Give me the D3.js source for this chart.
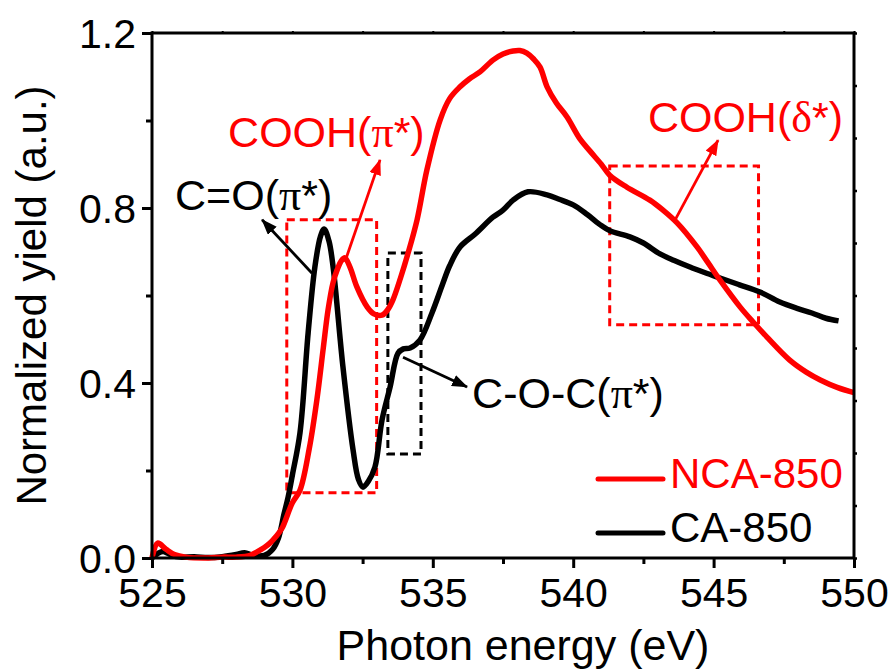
<!DOCTYPE html>
<html><head><meta charset="utf-8">
<script src="https://cdn.jsdelivr.net/npm/d3@7"></script>
<style>html,body{margin:0;padding:0;background:#fff;}svg{display:block;}</style>
</head><body>
<svg id="c" width="889" height="669"></svg>
<script>
const caEnergy = [525.0,525.2,525.4,525.7,526.0,526.5,527.0,527.5,528.0,528.3,528.6,529.0,529.3,529.5,529.7,529.85,530.0,530.27,530.56,530.8,531.0,531.13,531.3,531.45,531.8,532.16,532.35,532.51,532.7,532.94,533.19,533.48,533.76,533.95,534.19,534.54,534.97,535.36,535.6,535.97,536.5,537.14,537.5,537.86,538.39,539.07,539.5,540.0,540.5,541.0,541.31,542.02,542.5,543.09,543.6,544.16,544.7,545.23,545.9,546.65,547.36,548.0,548.5,549.0,549.45];
const caYield = [0.0,0.01,0.015,0.006,0.002,0.003,0.001,0.003,0.008,0.012,0.006,0.006,0.02,0.045,0.10,0.14,0.19,0.286,0.514,0.665,0.735,0.752,0.725,0.665,0.437,0.247,0.18,0.162,0.175,0.208,0.315,0.391,0.468,0.478,0.48,0.498,0.56,0.628,0.668,0.711,0.74,0.779,0.795,0.818,0.837,0.830,0.82,0.807,0.785,0.76,0.748,0.734,0.72,0.695,0.68,0.665,0.652,0.64,0.625,0.608,0.585,0.57,0.56,0.548,0.542];
const ncaEnergy = [525.0,525.2,525.5,525.8,526.2,527.0,527.5,528.0,528.5,528.74,529.0,529.2,529.4,529.63,529.99,530.27,530.6,530.87,531.1,531.27,531.45,531.59,531.75,531.87,532.05,532.3,532.66,532.9,533.19,533.4,533.58,533.85,534.12,534.44,534.79,535.26,535.6,535.97,536.3,536.68,537.14,537.5,537.86,538.1,538.35,538.6,538.82,539.07,539.4,539.78,540.24,540.6,541.0,541.3,541.9,542.73,543.2,543.7,544.41,544.8,545.23,545.94,546.4,546.9,547.7,548.3,548.8,549.4,550.0];
const ncaYield = [0.0,0.034,0.02,0.008,0.002,0.0,0.002,0.002,0.006,0.014,0.024,0.034,0.048,0.068,0.125,0.155,0.25,0.361,0.48,0.567,0.63,0.658,0.68,0.686,0.665,0.619,0.574,0.558,0.555,0.568,0.59,0.64,0.697,0.773,0.887,1.001,1.05,1.077,1.095,1.111,1.138,1.152,1.159,1.16,1.154,1.14,1.122,1.077,1.04,1.008,0.958,0.93,0.9,0.875,0.848,0.818,0.795,0.766,0.711,0.675,0.635,0.574,0.54,0.505,0.453,0.425,0.407,0.39,0.378];
const xTicks = [525,530,535,540,545,550];
const yTicks = [0.0,0.4,0.8,1.2];
const seriesNames = ["NCA-850","CA-850"];
const seriesColors = ["#ff0000","#000000"];
// annotation boxes in data units [x0,x1,y0,y1]
const boxes = [
  {x0:529.8,x1:533.0,y0:0.149,y1:0.773,color:"#ff0000"},
  {x0:533.4,x1:534.58,y0:0.238,y1:0.697,color:"#000000"},
  {x0:541.3,x1:546.6,y0:0.533,y1:0.896,color:"#ff0000"}
];
const arrows = [
  {x1:530.70,y1:0.651,x2:528.92,y2:0.773,color:"#000000"},
  {x1:531.87,y1:0.677,x2:533.12,y2:0.910,color:"#ff0000"},
  {x1:533.94,y1:0.459,x2:536.22,y2:0.391,color:"#000000"},
  {x1:543.63,y1:0.773,x2:545.16,y2:0.955,color:"#ff0000"}
];
const labels = [
  {x:527.71,y:0.939,pre:"COOH(",greek:"π",post:"*)",color:"#ff0000"},
  {x:525.82,y:0.795,pre:"C=O(",greek:"π",post:"*)",color:"#000000"},
  {x:536.40,y:0.343,pre:"C-O-C(",greek:"π",post:"*)",color:"#000000"},
  {x:542.66,y:0.974,pre:"COOH(",greek:"δ",post:"*)",color:"#ff0000"}
];

const svg = d3.select("#c");
const L=152,R=854,T=33,B=558;
const x = d3.scaleLinear().domain([525,550]).range([L,R]);
const y = d3.scaleLinear().domain([0,1.2]).range([B,T]);
const sans = "'Liberation Sans', Arial, Helvetica, sans-serif";
const serif = "'Liberation Serif', 'Times New Roman', serif";

const defs = svg.append("defs");
["#ff0000","#000000"].forEach((c,i)=>{
  defs.append("marker").attr("id","ah"+i).attr("markerUnits","userSpaceOnUse")
    .attr("viewBox","0 0 16 12").attr("refX",15).attr("refY",6)
    .attr("markerWidth",16).attr("markerHeight",12).attr("orient","auto")
    .append("path").attr("d","M0,0 L16,6 L0,12 Z").attr("fill",c);
});

svg.append("g").selectAll("rect").data(boxes).join("rect")
  .attr("x",d=>x(d.x0)).attr("y",d=>y(d.y1))
  .attr("width",d=>x(d.x1)-x(d.x0)).attr("height",d=>y(d.y0)-y(d.y1))
  .attr("fill","none").attr("stroke",d=>d.color).attr("stroke-width",3)
  .attr("stroke-dasharray","8,5");

const line = d3.line().x(d=>x(d[0])).y(d=>y(d[1])).curve(d3.curveCatmullRom.alpha(0.5));
const caData = caEnergy.map((e,i)=>[e,caYield[i]]);
const ncaData = ncaEnergy.map((e,i)=>[e,ncaYield[i]]);
svg.append("path").datum(caData).attr("d",line).attr("fill","none")
  .attr("stroke",seriesColors[1]).attr("stroke-width",5.5).attr("stroke-linejoin","round");
svg.append("path").datum(ncaData).attr("d",line).attr("fill","none")
  .attr("stroke",seriesColors[0]).attr("stroke-width",5.5).attr("stroke-linejoin","round");

svg.append("g").selectAll("line").data(arrows).join("line")
  .attr("x1",d=>x(d.x1)).attr("y1",d=>y(d.y1)).attr("x2",d=>x(d.x2)).attr("y2",d=>y(d.y2))
  .attr("stroke",d=>d.color).attr("stroke-width",2.8)
  .attr("marker-end",d=>d.color==="#ff0000"?"url(#ah0)":"url(#ah1)");

labels.forEach(l=>{
  const t = svg.append("text").attr("x",x(l.x)).attr("y",y(l.y))
    .attr("font-family",sans).attr("font-size",43).attr("fill",l.color);
  t.append("tspan").text(l.pre);
  t.append("tspan").attr("font-family",serif).attr("font-size",44).text(l.greek);
  t.append("tspan").text(l.post);
});

const ax = svg.append("g");
ax.append("rect").attr("x",L).attr("y",T).attr("width",R-L).attr("height",B-T)
  .attr("fill","none").attr("stroke","#000").attr("stroke-width",3);
const xAxis = d3.axisBottom(x).tickValues(xTicks).tickSize(10).tickFormat(d3.format("d"));
const gx = ax.append("g").attr("transform",`translate(0,${B})`).call(xAxis);
gx.select(".domain").remove();
gx.selectAll(".tick line").attr("stroke-width",3);
gx.selectAll(".tick text").attr("font-family",sans).attr("font-size",41).attr("fill","#000").attr("dy","0.95em").attr("y",10);
const xMinor = d3.axisBottom(x).tickValues(d3.range(527.5,550,5)).tickSize(6).tickFormat("");
const gxm = ax.append("g").attr("transform",`translate(0,${B})`).call(xMinor);
gxm.select(".domain").remove(); gxm.selectAll(".tick line").attr("stroke-width",3);
const gxt = ax.append("g").attr("transform",`translate(0,${T})`).call(d3.axisTop(x).tickValues(d3.range(525,550.1,2.5)).tickSize(2).tickFormat(""));
gxt.select(".domain").remove(); gxt.selectAll(".tick line").attr("stroke-width",2);
const yAxis = d3.axisLeft(y).tickValues(yTicks).tickSize(10).tickFormat(d3.format(".1f"));
const gy = ax.append("g").attr("transform",`translate(${L},0)`).call(yAxis);
gy.select(".domain").remove();
gy.selectAll(".tick line").attr("stroke-width",3);
gy.selectAll(".tick text").attr("font-family",sans).attr("font-size",41).attr("fill","#000").attr("x",-16).attr("dy","0.36em");
const gym = ax.append("g").attr("transform",`translate(${L},0)`).call(d3.axisLeft(y).tickValues([0.2,0.6,1.0]).tickSize(6).tickFormat(""));
gym.select(".domain").remove(); gym.selectAll(".tick line").attr("stroke-width",3);
const gyr = ax.append("g").attr("transform",`translate(${R},0)`).call(d3.axisRight(y).tickValues(d3.range(0,1.2001,0.12)).tickSize(3).tickFormat(""));
gyr.select(".domain").remove(); gyr.selectAll(".tick line").attr("stroke-width",2.5);

svg.append("text").attr("x",523).attr("y",660).attr("text-anchor","middle")
  .attr("font-family",sans).attr("font-size",43).attr("fill","#000").text("Photon energy (eV)");
svg.append("text").attr("transform",`translate(46,${(T+B)/2}) rotate(-90)`).attr("text-anchor","middle")
  .attr("font-family",sans).attr("font-size",42).attr("fill","#000").text("Normalized yield (a.u.)");

const leg = svg.append("g");
const legY = [479,533], legBase=[488,542];
seriesNames.forEach((n,i)=>{
  leg.append("line").attr("x1",598).attr("x2",663).attr("y1",legY[i]).attr("y2",legY[i])
    .attr("stroke",seriesColors[i]).attr("stroke-width",5).attr("stroke-linecap","round");
  leg.append("text").attr("x",670).attr("y",legBase[i]).attr("font-family",sans)
    .attr("font-size",42).attr("fill",seriesColors[i]).text(n);
});
</script>
</body></html>
